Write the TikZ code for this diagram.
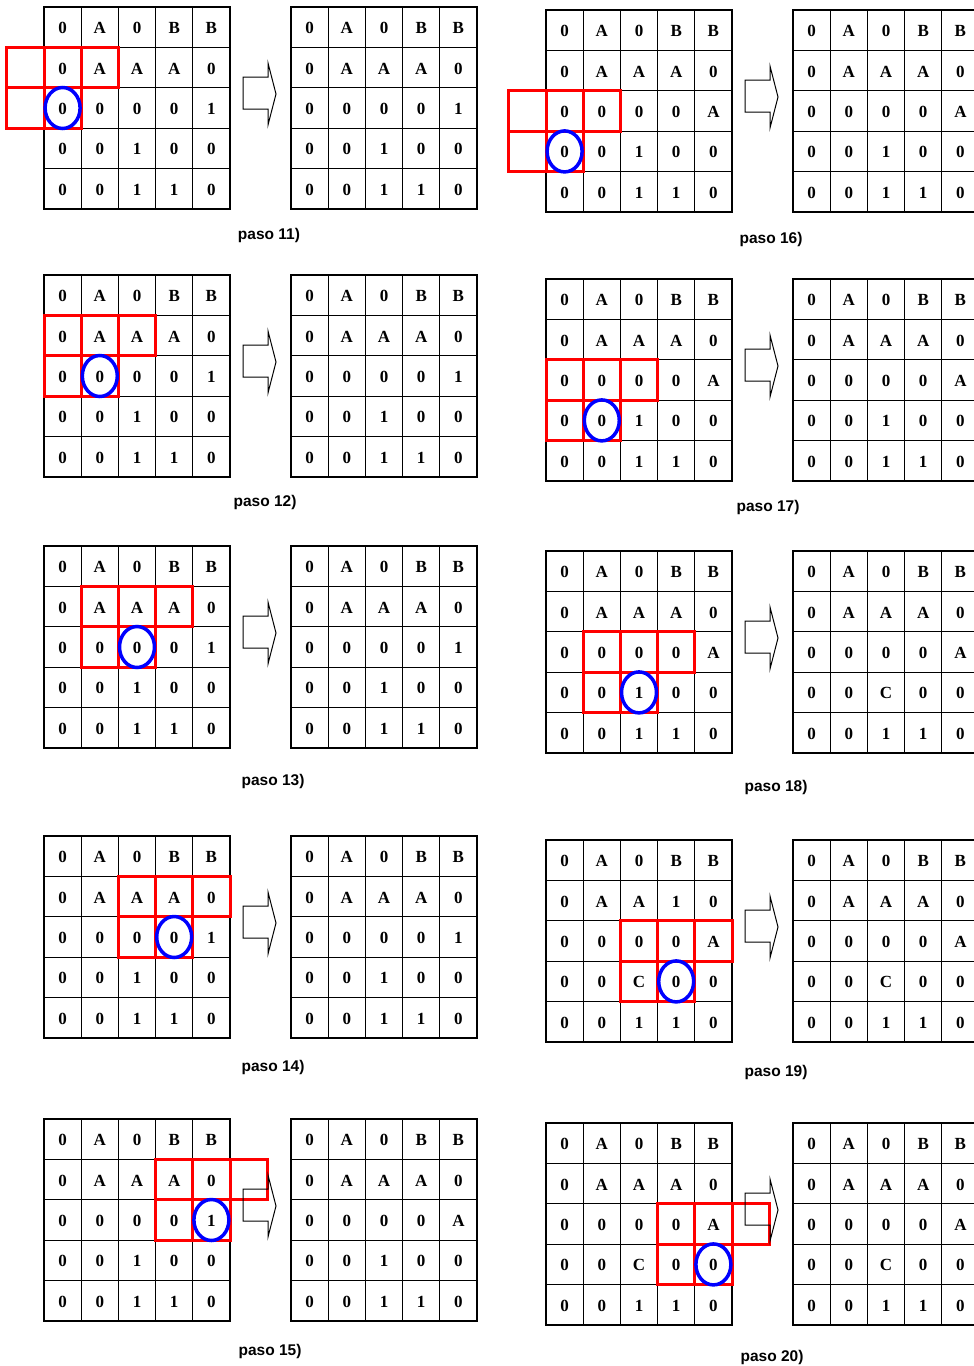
\documentclass[tikz,border=0pt]{standalone}
\usepackage{fontspec}
\setmainfont{Liberation Serif}
\setsansfont{Liberation Sans}
\usetikzlibrary{calc}

\def\cw{37.2}
\def\ch{40.4}

% grid contents
\def\tablaA{{0,A,0,B,B},{0,A,A,A,0},{0,0,0,0,1},{0,0,1,0,0},{0,0,1,1,0}}
\def\tablaB{{0,A,0,B,B},{0,A,A,A,0},{0,0,0,0,A},{0,0,1,0,0},{0,0,1,1,0}}
\def\tablaC{{0,A,0,B,B},{0,A,A,A,0},{0,0,0,0,A},{0,0,C,0,0},{0,0,1,1,0}}
\def\tablaD{{0,A,0,B,B},{0,A,A,1,0},{0,0,0,0,A},{0,0,C,0,0},{0,0,1,1,0}}

% one 5x5 grid: name, left, top, contents
\newcommand{\malla}[4]{
  \foreach \fila [count=\i from 0] in #4
  {
    \foreach \val [count=\j from 0] in \fila
    {
      \node[celda] (#1-\i-\j) at ({#2+(\j+0.5)*\cw},{#3+(\i+0.5)*\ch}) {\val};
    }
  }
}

% red neighbour cells and blue current cell: left, top, row, column
\newcommand{\vecinos}[4]{
  \foreach \dc in {-1,0,1}
    \draw[mascara] ({#1+(#4+\dc)*\cw},{#2+(#3-1)*\ch}) rectangle ++(\cw,\ch);
  \foreach \dc in {-1,0}
    \draw[mascara] ({#1+(#4+\dc)*\cw},{#2+#3*\ch}) rectangle ++(\cw,\ch);
  \draw[actual] ({#1+(#4+0.5)*\cw},{#2+(#3+0.5)*\ch}) ellipse [x radius=17.5, y radius=20.5];
}

% block arrow between the two grids
\newcommand{\flecha}[2]{
  \draw[bloque] ({#1+199},{#2+70}) -- ({#1+224},{#2+70}) -- ({#1+224},{#2+56})
    -- ({#1+232},{#2+87}) -- ({#1+224},{#2+118}) -- ({#1+224},{#2+102})
    -- ({#1+199},{#2+102}) -- cycle;
}

% one step: number, left, top, grid before, grid after, row, column
\newcommand{\paso}[7]{
  \malla{a#1}{#2}{#3}{#4}
  \malla{b#1}{#2+247}{#3}{#5}
  \vecinos{#2}{#3}{#6}{#7}
  \flecha{#2}{#3}
}

\begin{document}
\begin{tikzpicture}[x=1pt,y=-1pt,
  celda/.style={draw,line width=1.2pt,minimum width=\cw pt,minimum height=\ch pt,
    inner sep=0pt,font=\fontsize{17}{20}\selectfont\bfseries,
    text height=13pt},
  mascara/.style={draw=red,line width=3pt},
  actual/.style={draw=blue,line width=3.5pt},
  bloque/.style={draw,line width=1pt},
  rotulo/.style={font=\sffamily\bfseries\fontsize{15.5}{18}\selectfont}]

\path[use as bounding box,fill=white] (0,0) rectangle (974,1366);
\clip (0,0) rectangle (974,1366);

% left column
\paso{11}{44}{7}{\tablaA}{\tablaA}{2}{0}
\paso{12}{44}{275}{\tablaA}{\tablaA}{2}{1}
\paso{13}{44}{546}{\tablaA}{\tablaA}{2}{2}
\paso{14}{44}{836}{\tablaA}{\tablaA}{2}{3}
\paso{15}{44}{1119}{\tablaA}{\tablaB}{2}{4}

% right column
\paso{16}{546}{10}{\tablaB}{\tablaB}{3}{0}
\paso{17}{546}{279}{\tablaB}{\tablaB}{3}{1}
\paso{18}{546}{551}{\tablaB}{\tablaC}{3}{2}
\paso{19}{546}{840}{\tablaD}{\tablaC}{3}{3}
\paso{20}{546}{1123}{\tablaC}{\tablaC}{3}{4}

% captions
\node[rotulo] (r11) at (269,235) {paso 11)};
\node[rotulo] (r12) at (265,502) {paso 12)};
\node[rotulo] (r13) at (273,781) {paso 13)};
\node[rotulo] (r14) at (273,1067) {paso 14)};
\node[rotulo] (r15) at (270,1351) {paso 15)};
\node[rotulo] (r16) at (771,239) {paso 16)};
\node[rotulo] (r17) at (768,507) {paso 17)};
\node[rotulo] (r18) at (776,787) {paso 18)};
\node[rotulo] (r19) at (776,1072) {paso 19)};
\node[rotulo] (r20) at (772,1357) {paso 20)};

\end{tikzpicture}
\end{document}
